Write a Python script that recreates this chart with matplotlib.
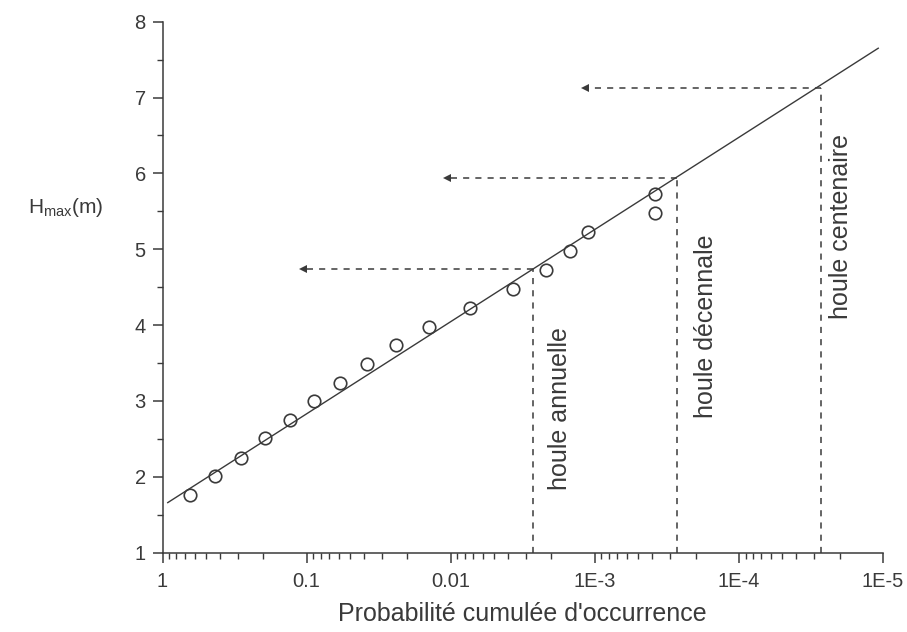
import numpy as np
import matplotlib.pyplot as plt
from matplotlib.ticker import FixedLocator, LogLocator, MultipleLocator, NullFormatter

plt.rcParams['font.family'] = ['Liberation Sans', 'DejaVu Sans']
plt.rcParams['mathtext.fontset'] = 'custom'
plt.rcParams['mathtext.rm'] = 'Liberation Sans'
plt.rcParams['mathtext.it'] = 'Liberation Sans'

# observed cumulative probabilities and wave heights
prob = [0.649, 0.43, 0.287, 0.196, 0.131, 0.0894, 0.059, 0.0383, 0.0241,
        0.0142, 0.0074, 0.0037, 0.0022, 0.00149, 0.00112, 0.00038, 0.00038]
hmax = [1.76, 2.01, 2.25, 2.51, 2.75, 3.0, 3.24, 3.49, 3.74,
        3.97, 4.22, 4.48, 4.73, 4.98, 5.23, 5.48, 5.73]

# fitted line
fit_x = [0.92, 1.08e-5]
fit_y = [1.66, 7.65]

# return levels: annual, decennial, centennial
ret_prob = [2.7e-3, 2.7e-4, 2.7e-5]
ret_h = [4.74, 5.94, 7.12]
arrow_end = [0.106, 0.0107, 0.00117]
ret_names = ['houle annuelle', 'houle décennale', 'houle centenaire']

xticks = [1, 0.1, 0.01, 1e-3, 1e-4, 1e-5]
xlabels = ['1', '0.1', '0.01', '1E-3', '1E-4', '1E-5']

ink = '#3a3a3a'

fig = plt.figure(figsize=(9.07, 6.32), dpi=100)
ax = fig.add_axes([0.1792, 0.1255, 0.7944, 0.8402])

ax.plot(fit_x, fit_y, color=ink, lw=1.0)
ax.plot(prob, hmax, 'o', mfc='none', mec=ink, ms=9, mew=1.2)

for p, h, xe, name in zip(ret_prob, ret_h, arrow_end, ret_names):
    ax.plot([p, p], [1, h], color=ink, lw=1.1, ls=(0, (4, 4)))
    ax.plot([p, xe], [h, h], color=ink, lw=1.1, ls=(0, (4, 4)))
    ax.plot([xe], [h], marker='<', color=ink, ms=6, mew=0)

ax.text(1.75e-3, 1.82, ret_names[0], rotation=90, ha='center', va='bottom',
        fontsize=18, color=ink)
ax.text(1.7e-4, 2.78, ret_names[1], rotation=90, ha='center', va='bottom',
        fontsize=18, color=ink)
ax.text(1.95e-5, 4.08, ret_names[2], rotation=90, ha='center', va='bottom',
        fontsize=18, color=ink)

ax.set_xscale('log')
ax.set_xlim(1, 1e-5)
ax.set_ylim(1, 8)
ax.xaxis.set_major_locator(FixedLocator(xticks))
ax.set_xticklabels(xlabels)
ax.xaxis.set_minor_locator(LogLocator(base=10, subs=np.arange(2, 10)))
ax.xaxis.set_minor_formatter(NullFormatter())
ax.yaxis.set_major_locator(MultipleLocator(1))
ax.yaxis.set_minor_locator(MultipleLocator(0.5))

for s in ['top', 'right']:
    ax.spines[s].set_visible(False)
for s in ['left', 'bottom']:
    ax.spines[s].set_color(ink)
    ax.spines[s].set_linewidth(1.1)

ax.tick_params(which='major', length=7, width=1.1, color=ink, labelsize=14.5,
               labelcolor=ink, pad=5)
ax.tick_params(axis='x', which='major', pad=7)
ax.tick_params(which='minor', length=4, width=1.0, color=ink)

ax.set_xlabel("Probabilité cumulée d'occurrence", fontsize=18, color=ink,
              labelpad=8)
fig.text(0.031, 0.672, r'H$_{\rm max}$(m)', fontsize=15, color=ink,
         ha='left', va='center')

fig.savefig('out.png', dpi=100)
